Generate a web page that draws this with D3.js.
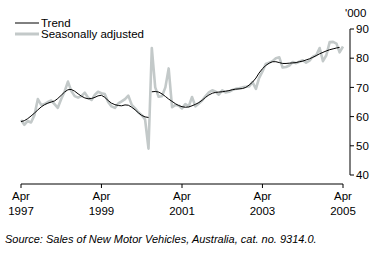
<!DOCTYPE html>
<html>
<head>
<meta charset="utf-8">
<script src="https://cdn.jsdelivr.net/npm/d3@7"></script>
<style>
  body { margin: 0; background: #fff; }
  svg { font-family: "Liberation Sans", Arial, sans-serif; }
</style>
</head>
<body>
<svg id="chart" width="385" height="259"></svg>
<script>
// monthly, Apr 1997 .. Apr 2005 ('000)
var startMonth = new Date(1997, 3, 1);
var tickLabels = ['Apr 1997', 'Apr 1999', 'Apr 2001', 'Apr 2003', 'Apr 2005'];
var yTicks = [40, 50, 60, 70, 80, 90];

var seasAdj = [
  58.8, 57.2, 58.5, 58.0, 60.5, 66.0, 64.0, 64.3, 65.0, 65.5, 64.2, 63.0,
  66.0, 68.5, 72.0, 68.8, 67.0, 66.5, 67.0, 68.2, 66.5, 65.7, 67.5, 68.5,
  68.0, 67.7, 65.0, 63.5, 63.0, 64.5, 65.2, 66.0, 67.2, 64.0, 62.8, 61.5,
  60.5, 59.0, 49.0, 83.5, 70.0, 66.8, 67.0, 70.0, 76.5, 63.2, 64.0, 63.8,
  62.8, 64.3, 63.5, 66.7, 63.5, 64.5, 65.5, 67.0, 68.3, 69.0, 68.5, 67.5,
  69.0, 68.3, 68.5, 69.1, 69.5, 69.7, 70.0, 70.2, 70.3, 71.8, 69.5, 73.2,
  75.5, 78.0, 78.5, 79.0, 80.0, 80.3, 76.8, 77.0, 77.5, 78.7, 78.3, 78.8,
  79.3, 78.5, 79.2, 80.5, 81.0, 83.5, 79.0, 81.0, 85.5, 85.6, 85.0, 82.0,
  84.0
];

// trend is broken at the introduction of the GST (Jul 2000)
var trendBefore = [
  58.3, 58.6, 59.3, 60.2, 61.2, 62.3, 63.3, 64.1, 64.6, 65.0, 65.4, 66.2,
  67.3, 68.4, 69.2, 69.3, 68.7, 67.8, 67.0, 66.4, 66.1, 66.2, 66.6, 67.1,
  67.3, 66.6, 65.5, 64.6, 64.1, 63.8, 63.7, 64.0, 63.9, 63.2, 62.3, 61.3,
  60.4, 59.9, 59.7
];
var trendAfter = [
  68.5, 68.6, 68.4, 67.8, 66.9, 66.0, 65.2, 64.4, 63.8, 63.4, 63.2, 63.3,
  63.7, 64.2, 64.8, 65.6, 66.6, 67.4, 68.0, 68.3, 68.4, 68.5, 68.7, 68.9,
  69.2, 69.4, 69.5, 69.6, 70.0, 70.8, 71.8, 73.2, 74.9, 76.4, 77.5, 78.3,
  78.8, 78.8, 78.5, 78.2, 78.2, 78.3, 78.4, 78.5, 78.8, 79.0, 79.4, 79.8,
  80.3, 80.9, 81.5, 82.0, 82.5, 82.9, 83.2, 83.5, 83.7
];

var monthAt = function (i) { return d3.timeMonth.offset(startMonth, i); };
var afterOffset = trendBefore.length;
var fs = 11.5;

var svg = d3.select('#chart');

var x = d3.scaleTime()
  .domain([startMonth, monthAt(96)])
  .range([21, 343]);
var y = d3.scaleLinear().domain([40, 90]).range([175, 29]);

var line = d3.line()
  .x(function (d) { return x(d.date); })
  .y(function (d) { return y(d.value); });

var saData = seasAdj.map(function (v, i) { return { date: monthAt(i), value: v }; });
var tb = trendBefore.map(function (v, i) { return { date: monthAt(i), value: v }; });
var ta = trendAfter.map(function (v, i) { return { date: monthAt(i + afterOffset), value: v }; });

svg.append('path')
  .datum(saData)
  .attr('fill', 'none')
  .attr('stroke', '#c3c9c9')
  .attr('stroke-width', 2.6)
  .attr('stroke-linejoin', 'round')
  .attr('d', line);

[tb, ta].forEach(function (seg) {
  svg.append('path')
    .datum(seg)
    .attr('fill', 'none')
    .attr('stroke', '#000')
    .attr('stroke-width', 1)
    .attr('d', line);
});

// x axis
var xTickDates = tickLabels.map(function (t) {
  return d3.timeParse('%b %Y')(t);
});
var xAxis = svg.append('g').attr('transform', 'translate(0,184)');
xAxis.append('line')
  .attr('x1', x(xTickDates[0])).attr('x2', x(xTickDates[xTickDates.length - 1]))
  .attr('stroke', '#000').attr('stroke-width', 1);
var xt = xAxis.selectAll('.xt').data(xTickDates).enter().append('g')
  .attr('transform', function (d) { return 'translate(' + x(d) + ',0)'; });
xt.append('line').attr('y1', 0).attr('y2', 4).attr('stroke', '#000');
xt.append('text')
  .attr('y', 16).attr('text-anchor', 'middle').attr('font-size', fs)
  .text(function (d, i) { return tickLabels[i].split(' ')[0]; });
xt.append('text')
  .attr('y', 31).attr('text-anchor', 'middle').attr('font-size', fs)
  .text(function (d, i) { return tickLabels[i].split(' ')[1]; });

// y axis on the right
var yAxis = svg.append('g').attr('transform', 'translate(350,0)');
yAxis.append('line')
  .attr('y1', y(90)).attr('y2', y(40))
  .attr('stroke', '#000').attr('stroke-width', 1);
var yt = yAxis.selectAll('.yt').data(yTicks).enter().append('g')
  .attr('transform', function (d) { return 'translate(0,' + y(d) + ')'; });
yt.append('line').attr('x1', 0).attr('x2', 4).attr('stroke', '#000');
yt.append('text')
  .attr('x', 6).attr('dy', '0.36em').attr('font-size', fs)
  .text(function (d) { return d; });
yAxis.append('text')
  .attr('x', -5).attr('y', 17).attr('font-size', fs)
  .text("'000");

// legend
var legend = svg.append('g');
legend.append('line')
  .attr('x1', 15).attr('x2', 39).attr('y1', 23).attr('y2', 23)
  .attr('stroke', '#000').attr('stroke-width', 1);
legend.append('text')
  .attr('x', 41).attr('y', 23).attr('dy', '0.36em').attr('font-size', fs)
  .text('Trend');
legend.append('line')
  .attr('x1', 15).attr('x2', 39).attr('y1', 34).attr('y2', 34)
  .attr('stroke', '#c3c9c9').attr('stroke-width', 3);
legend.append('text')
  .attr('x', 41).attr('y', 34).attr('dy', '0.36em').attr('font-size', fs)
  .text('Seasonally adjusted');

// source
svg.append('text')
  .attr('x', 5).attr('y', 243)
  .attr('font-size', 11).attr('font-style', 'italic')
  .text('Source: Sales of New Motor Vehicles, Australia, cat. no. 9314.0.');
</script>
</body>
</html>
